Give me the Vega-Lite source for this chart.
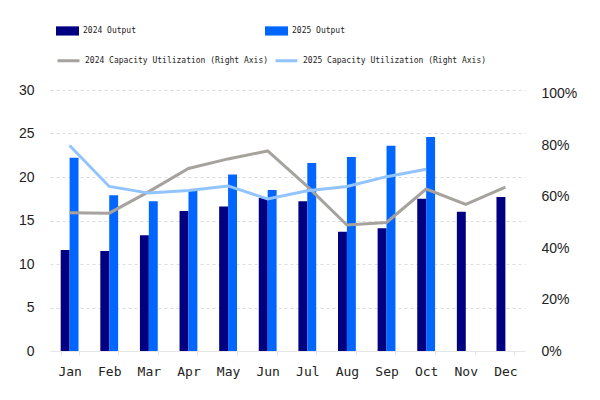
{
  "$schema": "https://vega.github.io/schema/vega-lite/v6.json",
  "width": 475,
  "height": 261,
  "autosize": "none",
  "padding": {"left": 50, "top": 90, "right": 75, "bottom": 49},
  "background": "white",
  "datasets": {
    "output": [
      {"month": "Jan", "series": "2024 Output", "value": 11.6},
      {"month": "Feb", "series": "2024 Output", "value": 11.5},
      {"month": "Mar", "series": "2024 Output", "value": 13.3},
      {"month": "Apr", "series": "2024 Output", "value": 16.1},
      {"month": "May", "series": "2024 Output", "value": 16.6},
      {"month": "Jun", "series": "2024 Output", "value": 17.6},
      {"month": "Jul", "series": "2024 Output", "value": 17.2},
      {"month": "Aug", "series": "2024 Output", "value": 13.7},
      {"month": "Sep", "series": "2024 Output", "value": 14.1},
      {"month": "Oct", "series": "2024 Output", "value": 17.5},
      {"month": "Nov", "series": "2024 Output", "value": 16.0},
      {"month": "Dec", "series": "2024 Output", "value": 17.7},
      {"month": "Jan", "series": "2025 Output", "value": 22.2},
      {"month": "Feb", "series": "2025 Output", "value": 17.9},
      {"month": "Mar", "series": "2025 Output", "value": 17.2},
      {"month": "Apr", "series": "2025 Output", "value": 18.4},
      {"month": "May", "series": "2025 Output", "value": 20.3},
      {"month": "Jun", "series": "2025 Output", "value": 18.5},
      {"month": "Jul", "series": "2025 Output", "value": 21.6},
      {"month": "Aug", "series": "2025 Output", "value": 22.3},
      {"month": "Sep", "series": "2025 Output", "value": 23.6},
      {"month": "Oct", "series": "2025 Output", "value": 24.6}
    ],
    "utilization": [
      {"month": "Jan", "series": "2024 Capacity Utilization (Right Axis)", "rate": 0.538},
      {"month": "Feb", "series": "2024 Capacity Utilization (Right Axis)", "rate": 0.536},
      {"month": "Mar", "series": "2024 Capacity Utilization (Right Axis)", "rate": 0.62},
      {"month": "Apr", "series": "2024 Capacity Utilization (Right Axis)", "rate": 0.71},
      {"month": "May", "series": "2024 Capacity Utilization (Right Axis)", "rate": 0.747},
      {"month": "Jun", "series": "2024 Capacity Utilization (Right Axis)", "rate": 0.778},
      {"month": "Jul", "series": "2024 Capacity Utilization (Right Axis)", "rate": 0.64},
      {"month": "Aug", "series": "2024 Capacity Utilization (Right Axis)", "rate": 0.49},
      {"month": "Sep", "series": "2024 Capacity Utilization (Right Axis)", "rate": 0.50},
      {"month": "Oct", "series": "2024 Capacity Utilization (Right Axis)", "rate": 0.63},
      {"month": "Nov", "series": "2024 Capacity Utilization (Right Axis)", "rate": 0.57},
      {"month": "Dec", "series": "2024 Capacity Utilization (Right Axis)", "rate": 0.637},
      {"month": "Jan", "series": "2025 Capacity Utilization (Right Axis)", "rate": 0.799},
      {"month": "Feb", "series": "2025 Capacity Utilization (Right Axis)", "rate": 0.64},
      {"month": "Mar", "series": "2025 Capacity Utilization (Right Axis)", "rate": 0.614},
      {"month": "Apr", "series": "2025 Capacity Utilization (Right Axis)", "rate": 0.624},
      {"month": "May", "series": "2025 Capacity Utilization (Right Axis)", "rate": 0.642},
      {"month": "Jun", "series": "2025 Capacity Utilization (Right Axis)", "rate": 0.591},
      {"month": "Jul", "series": "2025 Capacity Utilization (Right Axis)", "rate": 0.623},
      {"month": "Aug", "series": "2025 Capacity Utilization (Right Axis)", "rate": 0.64},
      {"month": "Sep", "series": "2025 Capacity Utilization (Right Axis)", "rate": 0.678},
      {"month": "Oct", "series": "2025 Capacity Utilization (Right Axis)", "rate": 0.707}
    ]
  },
  "encoding": {
    "x": {
      "field": "month",
      "type": "nominal",
      "sort": ["Jan", "Feb", "Mar", "Apr", "May", "Jun", "Jul", "Aug", "Sep", "Oct", "Nov", "Dec"],
      "scale": {"paddingInner": 0.55, "paddingOuter": 0.27},
      "axis": {
        "title": null,
        "labelAngle": 0,
        "labelFont": "DejaVu Sans Mono",
        "labelFontSize": 13,
        "labelColor": "#222222",
        "labelPadding": 10,
        "domainColor": "#e6e6e6",
        "tickColor": "#e6e6e6",
        "tickBand": "extent",
        "tickSize": 4
      }
    }
  },
  "layer": [
    {
      "data": {"name": "output"},
      "mark": {"type": "bar"},
      "encoding": {
        "xOffset": {"field": "series", "type": "nominal", "scale": {"domain": ["2024 Output", "2025 Output"], "paddingInner": 0}},
        "y": {
          "field": "value",
          "type": "quantitative",
          "scale": {"domain": [0, 30], "nice": false},
          "axis": {
            "title": null,
            "orient": "left",
            "values": [0, 5, 10, 15, 20, 25, 30],
            "labelFont": "Liberation Sans",
            "labelFontSize": 14,
            "labelColor": "#222222",
            "labelPadding": 16,
            "domain": false,
            "ticks": false,
            "grid": true,
            "gridColor": "#dddddd",
            "gridDash": [3, 3]
          }
        },
        "color": {
          "field": "series",
          "type": "nominal",
          "scale": {"domain": ["2024 Output", "2025 Output"], "range": ["#000080", "#0066ff"]},
          "legend": {
            "title": null,
            "orient": "none",
            "legendX": 6,
            "legendY": -71,
            "direction": "horizontal",
            "columns": 2,
            "columnPadding": 129,
            "symbolType": "M-1,-0.4H1V0.4H-1Z",
            "symbolSize": 529,
            "symbolStrokeWidth": 0,
            "labelFont": "DejaVu Sans Mono",
            "labelFontSize": 8,
            "labelLimit": 400,
            "labelColor": "#222222",
            "labelOffset": 4
          }
        }
      }
    },
    {
      "data": {"name": "utilization"},
      "mark": {"type": "line", "strokeWidth": 3},
      "encoding": {
        "y": {
          "field": "rate",
          "type": "quantitative",
          "scale": {"domain": [0, 1.015], "nice": false},
          "axis": {
            "title": null,
            "orient": "right",
            "values": [0, 0.2, 0.4, 0.6, 0.8, 1],
            "format": ".0%",
            "labelFont": "Liberation Sans",
            "labelFontSize": 14,
            "labelColor": "#222222",
            "labelPadding": 16,
            "domain": false,
            "ticks": false,
            "grid": false
          }
        },
        "color": {
          "field": "series",
          "type": "nominal",
          "scale": {
            "domain": ["2024 Capacity Utilization (Right Axis)", "2025 Capacity Utilization (Right Axis)"],
            "range": ["#a6a29e", "#92c4ff"]
          },
          "legend": {
            "title": null,
            "orient": "none",
            "legendX": 6,
            "legendY": -42,
            "direction": "horizontal",
            "columns": 2,
            "columnPadding": 0,
            "symbolType": "stroke",
            "symbolSize": 484,
            "symbolStrokeWidth": 3,
            "labelFont": "DejaVu Sans Mono",
            "labelFontSize": 8,
            "labelLimit": 400,
            "labelColor": "#222222",
            "labelOffset": 4
          }
        }
      }
    }
  ],
  "resolve": {"scale": {"y": "independent", "color": "independent"}},
  "config": {"view": {"stroke": null}}
}
